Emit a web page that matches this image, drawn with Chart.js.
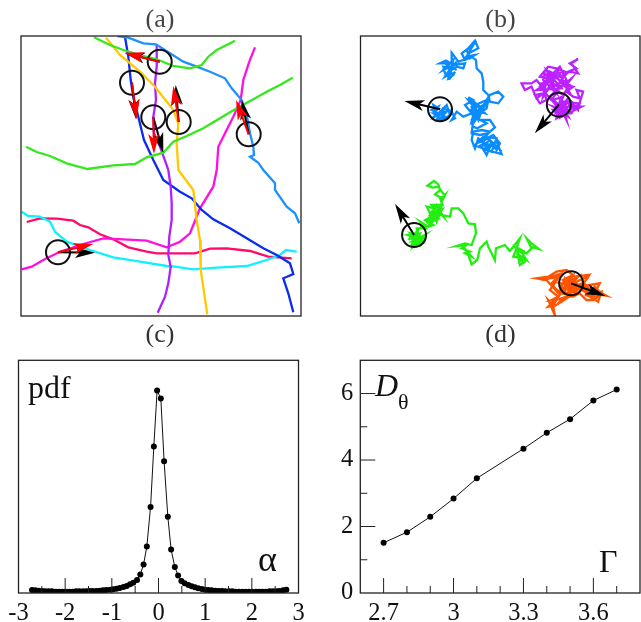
<!DOCTYPE html>
<html>
<head>
<meta charset="utf-8">
<script src="https://cdn.jsdelivr.net/npm/chart.js@4"></script>
<style>
body { margin: 0; background: #fff; }
canvas { position: absolute; }
</style>
</head>
<body>
<canvas id="panelA" width="320" height="348" style="left:0;top:0"></canvas>
<canvas id="panelB" width="321" height="348" style="left:320px;top:0"></canvas>
<canvas id="panelC" width="320" height="274" style="left:0;top:348px"></canvas>
<canvas id="panelD" width="321" height="274" style="left:320px;top:348px"></canvas>
<script>
// panel (a): straight-ish tracks, box units 0..280
const greenTopA = [[73,1.3],[89,9],[102.3,14],[119,19],[135.7,23.3],[152.3,30],[169,32.3],[180.7,29],[187.3,20.7],[195.7,14],[205.7,9],[214,4.7]];
const greenLowA = [[5,110.7],[15.7,116],[29,120],[45.7,127.3],[66.3,133],[92.3,129.3],[114,128],[125.7,121.3],[142.3,116.7],[152.3,105.7],[165.7,100],[182.3,92.3],[199,82.3],[215.7,72.3],[232.3,63.3],[245.7,55.7],[259,49],[271.7,41.7]];
const skyA = [[96.3,0],[107.3,1.7],[122.3,7.3],[135,8.3],[149,17.3],[162.3,25.7],[175.7,30.7],[189,35.7],[204,42.3],[210.7,52.3],[220.7,64],[225.7,79],[229,97.3],[232.3,110.7],[233,119],[229,120.7],[237.3,126.7],[242.3,134],[254,147.3],[254,154],[265.7,170.7],[274,177.3],[278.3,187.3]];
const purpleA = [[135.7,8],[135.7,30.7],[134,47.3],[135,64],[132.3,80.7],[133,97.3],[139,110.7],[145,127.3],[147.3,134],[149.7,150.7],[150.7,167.3],[150.7,184],[148.3,200.7],[147.3,219],[149.7,230.7],[147.3,247.3],[144,260.7],[136.7,276.7]];
const navyA = [[104,0.7],[107.3,20.7],[109.7,44],[112.3,60.7],[117.3,80.7],[123,104],[132.3,124],[137.3,134],[142.3,144],[159,155.7],[170.7,162.3],[180.7,174],[192.3,183.3],[209,192.3],[225.7,202.3],[242.3,212.3],[255.7,219],[269,227.3],[272.3,238],[262.3,242.3],[267.3,257.3],[272.3,276.3]];
const yellowA = [[85,1.7],[99,19],[119,35.7],[134,50.7],[152.3,74],[157.3,87.3],[155.7,107.3],[157.3,134],[172.3,154],[175.7,184],[179,204],[179.7,234],[186.3,278.3]];
const magentaA = [[234,11.3],[228.3,25.7],[222.3,44],[219.7,64],[212.3,80.7],[204,97.3],[197.3,110.7],[195.7,134],[192.3,150.7],[179,172.3],[169,197.3],[159,205.7],[145.7,211.3],[125.7,204.7],[102.3,203.3],[82.3,202.3],[62.3,208],[39,215.7],[22.3,224],[10.7,230.7],[0.7,233.3]];
const cyanA = [[0.7,175.7],[7.3,180],[19,180.7],[29,185.7],[34,195.7],[45.7,205.7],[69,214],[92.3,221.3],[119,225.7],[145.7,230],[154,230.7],[172.3,233.3],[195.7,231.7],[225.7,230],[245.7,224],[259,219],[265,214],[275.7,215.7]];
const crimsonA = [[5.7,186],[19,182.3],[35.7,182.7],[52.3,184.7],[59,189],[67.3,191.3],[79,198.3],[92.3,203.3],[107.3,211.3],[125.7,215.7],[135.7,217.3],[155.7,217.3],[174,217.3],[189,212.7],[205.7,212.3],[229,215],[247.3,220.7],[270.7,222.3]];
const centresA = [[138.7,25.7],[111,46.7],[132.3,81.3],[157.7,86],[227.7,98.3],[37,216.3]];
const blackTipsA = [[104,17.3],[115,83.3],[142.3,116.7],[154.7,49],[220.7,64],[74,216.7]];
const redTipsA = [[103.3,16.7],[115.7,83.3],[133,118],[152.3,50],[215,64],[72.3,208]];

// panel (b): random-walk tracks, box units 0..840
const blueB = [[239,220],[219,207],[229,237],[214,247],[239,232],[259,207],[269,237],[244,255],[224,232],[234,212],[214,222],[254,242],[229,252],[244,222],[224,242],[259,227],[239,247],[219,232],[249,232],[249,217],[274,227],[284,247],[274,252],[289,227],[309,242],[334,232],[314,207],[339,192],[324,184],[359,212],[379,202],[354,237],[334,257],[344,217],[324,192],[344,202],[364,222],[334,197],[354,252],[369,212],[344,242],[329,222],[374,232],[349,207],[339,262],[359,232],[379,217],[384,192],[349,227],[334,252],[337,272],[351,277],[379,262],[359,252],[389,252],[404,274],[389,287],[364,282],[339,287],[334,312],[344,337],[354,307],[384,327],[409,317],[424,354],[379,342],[369,312],[399,297],[419,322],[409,342],[394,322],[379,357],[364,332],[389,312],[414,337],[374,322],[354,332],[394,347],[409,307],[369,302],[349,322],[384,307],[399,327],[379,332],[384,337],[364,317],[384,292],[359,297],[334,292],[339,252],[334,212],[379,192],[389,177],[414,167],[429,182],[414,202],[389,197],[384,177],[369,162],[369,137],[364,112],[349,97],[347,72],[334,62],[314,72],[304,52],[324,37],[344,14],[354,37],[334,47],[324,52],[339,27],[319,42],[329,67],[344,57],[319,62],[309,72],[294,77],[274,50],[274,82],[239,82],[257,74],[279,87],[314,82],[309,97],[289,92],[264,107],[284,82],[254,122],[274,112],[259,87],[289,102],[269,92],[249,102],[279,72],[264,127],[279,117],[284,107],[269,127],[254,112],[249,92],[274,97],[289,77]];
const purpleB = [[596,206],[579,192],[609,182],[589,227],[619,202],[599,242],[579,222],[624,222],[604,192],[609,222],[579,212],[624,242],[599,197],[589,247],[644,212],[614,197],[654,202],[634,232],[594,232],[624,212],[664,212],[604,242],[634,197],[654,222],[661,192],[669,167],[649,162],[659,187],[639,182],[619,167],[639,152],[619,147],[634,127],[599,157],[579,142],[559,167],[589,112],[614,107],[589,97],[564,92],[539,122],[569,127],[549,157],[529,132],[514,142],[484,142],[494,162],[514,152],[529,187],[549,172],[524,177],[539,202],[559,192],[544,142],[574,137],[554,112],[549,132],[589,172],[559,102],[609,142],[574,192],[539,152],[599,92],[619,132],[569,157],[584,127],[529,162],[604,157],[564,112],[549,182],[594,107],[624,162],[579,112],[599,122],[629,107],[654,112],[634,82],[654,69],[629,82],[649,97],[624,107],[599,137],[629,147],[609,177],[589,162],[569,182],[594,217],[614,232],[619,252],[604,222],[584,202],[604,212],[624,187]];
const greenB = [[161,597],[144,612],[174,582],[154,627],[189,617],[164,602],[179,632],[149,592],[184,602],[159,607],[174,612],[149,602],[169,627],[184,622],[154,617],[194,597],[164,622],[179,592],[144,597],[189,607],[159,632],[174,602],[169,577],[197,577],[179,557],[204,572],[219,567],[194,552],[214,542],[199,512],[224,517],[209,537],[239,532],[229,557],[219,522],[214,527],[234,547],[204,547],[244,522],[224,552],[209,562],[239,512],[219,537],[199,562],[229,507],[249,542],[214,507],[247,507],[239,487],[254,479],[244,467],[234,452],[217,455],[201,449],[221,435],[234,445],[239,462],[224,475],[244,487],[254,477],[244,497],[241,537],[269,542],[274,517],[294,517],[309,532],[324,562],[344,565],[347,592],[334,627],[314,622],[289,630],[319,627],[304,637],[329,647],[314,652],[334,662],[317,642],[324,657],[334,685],[351,672],[359,637],[379,617],[384,632],[404,672],[407,637],[434,627],[449,645],[479,607],[469,637],[459,662],[484,667],[469,652],[499,672],[479,642],[494,647],[464,632],[489,682],[474,662],[479,687],[494,677],[489,652],[469,642],[499,652],[514,637],[499,607],[514,622],[536,639],[509,632]];
const orangeB = [[633,742],[609,732],[639,717],[614,762],[654,747],[619,772],[599,752],[629,727],[624,722],[649,742],[609,757],[634,732],[654,722],[619,762],[639,742],[604,742],[659,757],[624,752],[644,772],[669,742],[634,767],[614,727],[599,767],[659,732],[684,722],[664,752],[689,747],[719,742],[704,772],[724,767],[714,797],[689,782],[674,767],[694,757],[664,762],[684,772],[704,752],[714,762],[694,782],[674,777],[709,782],[729,772],[699,792],[679,792],[659,772],[639,782],[619,782],[589,792],[579,807],[564,792],[584,837],[579,812],[604,797],[634,777],[604,772],[579,752],[589,762],[574,742],[594,722],[544,732],[604,712],[569,762],[594,782],[574,792],[609,787],[589,807],[564,812],[599,777],[559,732],[529,727],[564,722],[589,707],[619,702],[644,722],[684,717],[664,732],[699,772],[739,779],[709,762],[634,752],[614,742],[649,762],[629,772],[619,747],[644,732]];
const centresB = [[239,220],[596,206],[161,597],[633,742]];
const tipsB = [[132,195],[524,292],[104,504],[736,780]];

// panel (c)
const alphaValues = [-2.71,-2.64,-2.57,-2.49,-2.42,-2.35,-2.28,-2.20,-2.13,-2.06,-1.99,-1.91,-1.84,-1.77,-1.70,-1.62,-1.55,-1.48,-1.41,-1.33,-1.26,-1.19,-1.12,-1.04,-0.97,-0.90,-0.83,-0.75,-0.68,-0.61,-0.54,-0.46,-0.39,-0.32,-0.25,-0.17,-0.10,-0.03,0.05,0.12,0.20,0.27,0.35,0.42,0.49,0.56,0.64,0.71,0.78,0.85,0.93,1.00,1.07,1.14,1.22,1.29,1.36,1.43,1.51,1.58,1.65,1.72,1.80,1.87,1.94,2.01,2.09,2.16,2.23,2.30,2.38,2.45,2.52,2.59,2.67,2.74];
const pdfValues = [0.09,0.08,0.07,0.06,0.05,0.05,0.05,0.04,0.04,0.04,0.04,0.04,0.04,0.05,0.05,0.05,0.05,0.06,0.06,0.06,0.07,0.08,0.09,0.10,0.11,0.13,0.15,0.18,0.21,0.26,0.31,0.39,0.56,0.86,1.40,2.59,4.41,6.09,5.85,3.96,2.29,1.31,0.78,0.53,0.36,0.29,0.24,0.20,0.17,0.14,0.12,0.10,0.09,0.08,0.07,0.06,0.06,0.05,0.05,0.05,0.04,0.04,0.04,0.04,0.04,0.04,0.04,0.04,0.04,0.04,0.05,0.05,0.05,0.06,0.08,0.10];
const alphaLabels = [-3,-2,-1,0,1,2,3];
const alphaMajorTicks = [-2,-1,0,1,2];
const alphaMinorTicks = [-2.5,-1.5,-0.5,0.5,1.5,2.5];

// panel (d)
const gammaValues = [2.7,2.8,2.9,3.0,3.1,3.3,3.4,3.5,3.6,3.7];
const diffusionValues = [1.51,1.83,2.29,2.84,3.45,4.34,4.82,5.23,5.79,6.12];
const gammaLabels = [2.7,3,3.3,3.6];
const gammaMajorTicks = [2.7,3,3.3,3.6];
const gammaMinorTicks = [2.8,2.9,3.1,3.2,3.4,3.5,3.7];
const diffusionLabels = [0,2,4,6];
const diffusionMajorTicks = [2,4,6];
const diffusionMinorTicks = [1,3,5];

const SERIF = '"Liberation Serif", serif';

function drawArrow(ctx, x0, y0, x1, y1, color) {
    const a = Math.atan2(y1 - y0, x1 - x0);
    ctx.save();
    ctx.translate(x1, y1);
    ctx.rotate(a);
    ctx.strokeStyle = color;
    ctx.fillStyle = color;
    ctx.lineWidth = 2;
    ctx.beginPath();
    ctx.moveTo(-Math.hypot(x1 - x0, y1 - y0), 0);
    ctx.lineTo(-10, 0);
    ctx.stroke();
    ctx.beginPath();
    ctx.moveTo(0, 0);
    ctx.lineTo(-20, -5.5);
    ctx.lineTo(-15, 0);
    ctx.lineTo(-20, 5.5);
    ctx.closePath();
    ctx.fill();
    ctx.restore();
}

// frame, inward ticks, arrows and free text
const decor = {
    id: 'decor',
    afterDatasetsDraw(chart, args, opts) {
        const { ctx, chartArea: area, scales } = chart;
        const sx = scales.x, sy = scales.y;
        (opts.arrows || []).forEach(set => {
            set.tails.forEach((t, i) => {
                drawArrow(ctx, sx.getPixelForValue(t[0]), sy.getPixelForValue(t[1]),
                    sx.getPixelForValue(set.tips[i][0]), sy.getPixelForValue(set.tips[i][1]), set.color);
            });
        });
        ctx.save();
        ctx.strokeStyle = '#222';
        ctx.lineWidth = 1.3;
        ctx.strokeRect(area.left, area.top, area.width, area.height);
        const markX = (vals, len) => vals.forEach(v => {
            const p = sx.getPixelForValue(v);
            ctx.beginPath(); ctx.moveTo(p, area.bottom); ctx.lineTo(p, area.bottom - len); ctx.stroke();
        });
        const markY = (vals, len) => vals.forEach(v => {
            const p = sy.getPixelForValue(v);
            ctx.beginPath(); ctx.moveTo(area.left, p); ctx.lineTo(area.left + len, p); ctx.stroke();
        });
        ctx.lineWidth = 1;
        markX(opts.xMajor || [], 15);
        markX(opts.xMinor || [], 7);
        markY(opts.yMajor || [], 15);
        markY(opts.yMinor || [], 7);
        (opts.texts || []).forEach(t => {
            ctx.font = t.font;
            ctx.fillStyle = t.color || '#111';
            ctx.textAlign = t.align || 'left';
            ctx.textBaseline = 'alphabetic';
            ctx.fillText(t.text, t.x, t.y);
        });
        ctx.restore();
    }
};

function track(data, color) {
    return { data, borderColor: color, borderWidth: 2.3, showLine: true, pointRadius: 0, tension: 0, order: 2 };
}
function circles(data) {
    return { data, showLine: false, pointRadius: 12, pointHoverRadius: 12, pointBorderColor: '#111', pointBorderWidth: 2, pointBackgroundColor: 'transparent', order: 1 };
}
function boxOptions(max, padding, decorOpts) {
    return {
        responsive: false, animation: false, devicePixelRatio: 1,
        layout: { padding, autoPadding: false },
        scales: {
            x: { display: false, type: 'linear', min: 0, max },
            y: { display: false, type: 'linear', min: 0, max, reverse: true }
        },
        plugins: { legend: { display: false }, tooltip: { enabled: false }, decor: decorOpts }
    };
}

new Chart(document.getElementById('panelA'), {
    type: 'scatter',
    plugins: [decor],
    data: { datasets: [
        track(greenTopA, '#35e81c'), track(greenLowA, '#35e81c'), track(skyA, '#1e90ff'),
        track(yellowA, '#ffc800'), track(purpleA, '#b020ff'), track(navyA, '#0a2bf0'),
        track(magentaA, '#ff10e0'), track(cyanA, '#10f0ff'), track(crimsonA, '#ff0a66'),
        circles(centresA)
    ] },
    options: boxOptions(280, { left: 21, right: 19, top: 36, bottom: 32 }, {
        arrows: [
            { tails: centresA, tips: blackTipsA, color: '#000' },
            { tails: centresA, tips: redTipsA, color: '#ff0000' }
        ],
        texts: [
            { text: '(a)', x: 160, y: 27, font: '26px ' + SERIF, color: '#444', align: 'center' },
            { text: '(c)', x: 160, y: 342, font: '26px ' + SERIF, color: '#333', align: 'center' }
        ]
    })
});

new Chart(document.getElementById('panelB'), {
    type: 'scatter',
    plugins: [decor],
    data: { datasets: [
        track(blueB, '#0a8cff'), track(purpleB, '#bb22ff'), track(greenB, '#22ee10'), track(orangeB, '#ff5500'),
        circles(centresB)
    ] },
    options: boxOptions(840, { left: 40.5, right: 1, top: 36, bottom: 32 }, {
        arrows: [{ tails: centresB, tips: tipsB, color: '#000' }],
        texts: [
            { text: '(b)', x: 180.5, y: 27, font: '26px ' + SERIF, color: '#444', align: 'center' },
            { text: '(d)', x: 180.5, y: 342, font: '26px ' + SERIF, color: '#333', align: 'center' }
        ]
    })
});

function noScalePadding(s) {
    s.paddingTop = 0; s.paddingBottom = 0; s.paddingLeft = 0; s.paddingRight = 0;
}
function labelAxis(labels, pad, fit, extra) {
    return Object.assign({
        type: 'linear',
        grid: { display: false, drawTicks: false },
        border: { display: false },
        afterFit: s => { fit(s); noScalePadding(s); },
        afterBuildTicks: s => { s.ticks = labels.map(value => ({ value })); },
        ticks: {
            color: '#111', padding: pad, maxRotation: 0, autoSkip: false,
            font: { family: 'Liberation Serif', size: 24.5 },
            callback: v => String(v)
        }
    }, extra);
}
function curve(xs, ys) {
    return {
        data: xs.map((x, i) => [x, ys[i]]),
        showLine: true, borderColor: '#111', borderWidth: 1, tension: 0,
        pointRadius: 3, pointHoverRadius: 3, pointBackgroundColor: '#000', pointBorderWidth: 0
    };
}

new Chart(document.getElementById('panelC'), {
    type: 'scatter',
    plugins: [decor],
    data: { datasets: [curve(alphaValues, pdfValues)] },
    options: {
        responsive: false, animation: false, devicePixelRatio: 1,
        layout: { padding: { left: 18.5, right: 21.5, top: 12.3 }, autoPadding: false },
        scales: {
            x: labelAxis(alphaLabels, 6, s => { s.height = 29; }, { min: -3, max: 3 }),
            y: { display: false, type: 'linear', min: 0, max: 7 }
        },
        plugins: {
            legend: { display: false }, tooltip: { enabled: false },
            decor: {
                xMajor: alphaMajorTicks, xMinor: alphaMinorTicks,
                texts: [
                    { text: 'pdf', x: 28, y: 50, font: '32px ' + SERIF },
                    { text: 'α', x: 258, y: 223, font: '36px ' + SERIF }
                ]
            }
        }
    }
});

new Chart(document.getElementById('panelD'), {
    type: 'scatter',
    plugins: [decor],
    data: { datasets: [curve(gammaValues, diffusionValues)] },
    options: {
        responsive: false, animation: false, devicePixelRatio: 1,
        layout: { padding: { right: 1, top: 12.3 }, autoPadding: false },
        scales: {
            x: labelAxis(gammaLabels, 6, s => { s.height = 29; }, { min: 2.6, max: 3.8 }),
            y: labelAxis(diffusionLabels, 7, s => { s.width = 40.3; }, { min: 0, max: 7 })
        },
        plugins: {
            legend: { display: false }, tooltip: { enabled: false },
            decor: {
                xMajor: gammaMajorTicks, xMinor: gammaMinorTicks,
                yMajor: diffusionMajorTicks, yMinor: diffusionMinorTicks,
                texts: [
                    { text: 'D', x: 55, y: 48, font: 'italic 32px ' + SERIF },
                    { text: 'θ', x: 78, y: 61, font: '22px ' + SERIF },
                    { text: 'Γ', x: 279, y: 224, font: '32px ' + SERIF }
                ]
            }
        }
    }
});
</script>
</body>
</html>
